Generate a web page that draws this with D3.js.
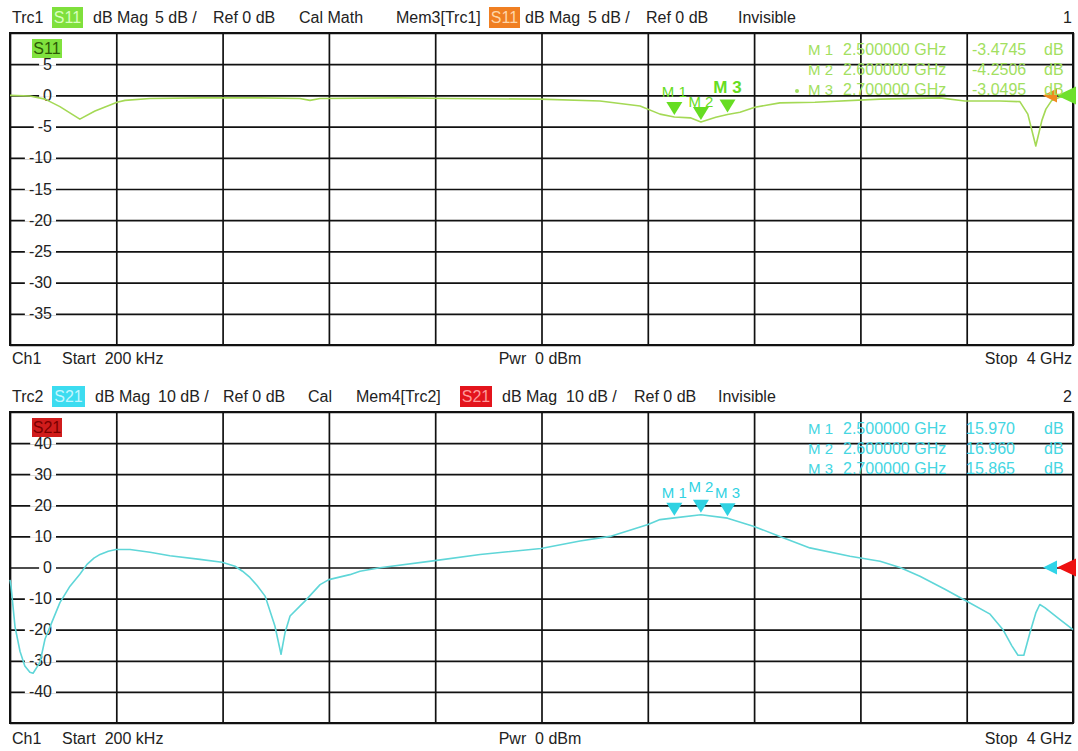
<!DOCTYPE html>
<html><head><meta charset="utf-8">
<script src="https://cdn.jsdelivr.net/npm/d3@7"></script>
<style>
body{margin:0;background:#fff}
svg{display:block}
text{font-family:"Liberation Sans",Arial,sans-serif;white-space:pre}
</style>
</head><body>
<svg id="c" width="1078" height="751"></svg>
<script>
// ---------- data ----------
const s11Freq = [0.0002,0.075,0.132,0.188,0.263,0.320,0.403,0.433,0.527,0.715,0.941,1.091,1.129,1.167,1.468,1.656,1.994,2.220,2.371,2.446,2.5,2.56,2.6,2.656,2.7,2.747,2.803,2.897,3.029,3.274,3.499,3.593,3.725,3.800,3.830,3.860,3.883,3.898,3.920,3.950,4.0];
const s11Db   = [0,-0.1,-0.6,-1.8,-3.8,-2.5,-1.1,-0.8,-0.5,-0.4,-0.4,-0.5,-0.8,-0.5,-0.4,-0.5,-0.6,-0.9,-1.7,-3.0,-3.47,-3.6,-4.25,-3.5,-3.05,-2.7,-1.9,-1.2,-1.1,-0.6,-0.4,-0.9,-0.9,-1.0,-3.0,-8.1,-4.0,-2.2,-0.8,-0.3,-0.2];
const s21Freq = [0.0002,0.004,0.019,0.038,0.056,0.075,0.087,0.113,0.132,0.151,0.188,0.226,0.263,0.290,0.316,0.339,0.370,0.399,0.452,0.527,0.602,0.715,0.798,0.847,0.875,0.903,0.930,0.960,0.997,1.020,1.035,1.054,1.091,1.110,1.167,1.200,1.279,1.317,1.392,1.599,1.769,1.998,2.145,2.258,2.401,2.446,2.5,2.6,2.7,2.8,2.897,3.010,3.161,3.274,3.349,3.424,3.518,3.597,3.688,3.736,3.770,3.793,3.815,3.838,3.860,3.875,3.894,3.950,4.0];
const s21Db   = [-4,-6,-19,-27,-31.7,-33.7,-34,-30.5,-23,-19,-11.3,-6,-2.2,1,3,4.2,5.2,5.8,5.8,4.9,3.8,2.6,1.7,0.4,-1.2,-3.2,-5.8,-9.2,-18.8,-27.9,-21,-15.6,-12.4,-10.8,-5.5,-3.9,-2.3,-1.2,-0.1,2.2,4.2,6.1,8.5,10,13.8,15.4,15.97,16.96,15.865,13.2,10,6.3,3.6,2,0,-2.8,-7,-10.7,-15,-19.9,-25.2,-28.2,-28.2,-21,-14.6,-11.9,-12.9,-16.7,-20];
const markerNames = ["M 1","M 2","M 3"];
const markerFreq = [2.5,2.6,2.7];
const markerFreqText = ["2.500000 GHz","2.600000 GHz","2.700000 GHz"];
const s11MarkerDb = [-3.4745,-4.2506,-3.0495];
const s21MarkerDb = [15.970,16.960,15.865];
const s11MarkerText = ["-3.4745","-4.2506","-3.0495"];
const s21MarkerText = ["15.970","16.960","15.865"];
const s11Ticks = [5,0,-5,-10,-15,-20,-25,-30,-35];
const s21Ticks = [40,30,20,10,0,-10,-20,-30,-40];
const fStart = 0.0002, fStop = 4;

// ---------- drawing ----------
const svg = d3.select("#c");
const X0 = 10, X1 = 1073;
const x = d3.scaleLinear().domain([fStart, fStop]).range([X0, X1]);
const vTicks = d3.range(0, 11).map(i => fStart + i * (fStop - fStart) / 10);

function header(y, items) {
  const g = svg.append("g");
  items.forEach(it => {
    if (it.badge) {
      g.append("rect").attr("x", it.x).attr("y", y - 16).attr("width", it.w).attr("height", 21).attr("fill", it.badge);
      g.append("text").attr("x", it.x + it.w / 2).attr("y", y).attr("text-anchor", "middle")
        .attr("font-size", 16).attr("fill", it.tc).text(it.t);
    } else {
      g.append("text").attr("x", it.x).attr("y", y).attr("text-anchor", it.a || "start")
        .attr("font-size", 16).attr("fill", "#222").text(it.t);
    }
  });
}

function panel(cfg) {
  const y = d3.scaleLinear().domain(cfg.domain).range([cfg.bottom, cfg.top]);
  const g = svg.append("g");
  const H = cfg.bottom - cfg.top;
  g.append("g").attr("transform", `translate(0,${cfg.bottom})`)
    .call(d3.axisBottom(x).tickValues(vTicks).tickSize(-H).tickFormat(""))
    .call(s => { s.select(".domain").remove(); s.selectAll("line").attr("stroke", "#111").attr("stroke-width", 1.7); });
  const hTicks = d3.range(cfg.domain[0], cfg.domain[1] + 0.001, cfg.step);
  g.append("g").attr("transform", `translate(${X0},0)`)
    .call(d3.axisRight(y).tickValues(hTicks).tickSize(X1 - X0).tickFormat(""))
    .call(s => { s.select(".domain").remove(); s.selectAll("line").attr("stroke", "#111").attr("stroke-width", 1.7); });
  g.append("rect").attr("x", X0).attr("y", cfg.top).attr("width", X1 - X0).attr("height", H)
    .attr("fill", "none").attr("stroke", "#111").attr("stroke-width", 2);
  cfg.ticks.forEach(v => {
    const t = g.append("text").attr("x", 52).attr("y", y(v) + 5.5).attr("text-anchor", "end")
      .attr("font-size", 16).attr("fill", "#222").text(String(v));
    const bb = t.node().getBBox();
    g.insert("rect", () => t.node()).attr("x", bb.x - 4).attr("y", y(v) - 1.5).attr("width", 56 - (bb.x - 4)).attr("height", 3).attr("fill", "#fff");
  });
  // in-plot badge
  g.append("rect").attr("x", 32).attr("y", cfg.top + 6).attr("width", 30).attr("height", 19).attr("fill", cfg.badgeBg);
  g.append("text").attr("x", 47).attr("y", cfg.top + 21).attr("text-anchor", "middle").attr("font-size", 16)
    .attr("fill", cfg.badgeFg).text(cfg.badge);
  // trace
  const line = d3.line().x(d => x(d[0])).y(d => y(d[1]));
  g.append("path").datum(d3.zip(cfg.freq, cfg.db)).attr("d", line)
    .attr("fill", "none").attr("stroke", cfg.color).attr("stroke-width", 1.6).attr("stroke-linejoin", "round");
  // reference level arrows (right)
  const ry = y(0);
  g.append("path").attr("d", `M${X1 - 16},${ry} L${X1 + 3},${ry - 9} L${X1 + 3},${ry + 9} Z`).attr("fill", cfg.refMain);
  g.append("path").attr("d", `M${X1 - 30},${ry} L${X1 - 16},${ry - 7} L${X1 - 16},${ry + 7} Z`).attr("fill", cfg.refSub);
  // markers
  markerFreq.forEach((f, i) => {
    const px = x(f), py = y(cfg.mdb[i]) - 2;
    g.append("path").attr("d", `M${px},${py} L${px - 8},${py - 13} L${px + 8},${py - 13} Z`).attr("fill", cfg.mcolor);
    const off = cfg.labelOff[i];
    g.append("text").attr("x", px).attr("y", py - 13 - off).attr("text-anchor", "middle")
      .attr("font-size", cfg.labelSize[i]).attr("font-weight", cfg.labelWeight[i]).attr("fill", cfg.mcolor).text(markerNames[i]);
  });
  // marker table
  markerNames.forEach((m, i) => {
    const ty = cfg.top + 22 + i * 20;
    g.append("text").attr("x", 808).attr("y", ty).attr("font-size", 15).attr("fill", cfg.tcolor).text(m);
    g.append("text").attr("x", 843).attr("y", ty).attr("font-size", 16).attr("fill", cfg.tcolor).text(markerFreqText[i]);
    g.append("text").attr("x", cfg.valX).attr("y", ty).attr("font-size", 16).attr("fill", cfg.tcolor).text(cfg.mtext[i]);
    g.append("text").attr("x", 1044).attr("y", ty).attr("font-size", 16).attr("fill", cfg.tcolor).text("dB");
  });
  if (cfg.dot) g.append("circle").attr("cx", 797).attr("cy", cfg.top + 58).attr("r", 2).attr("fill", cfg.tcolor);
}

header(23, [
  {t:"Trc1", x:12}, {t:"S11", x:52, w:31, badge:"#7fe03c", tc:"#d9ffbe"},
  {t:"dB Mag", x:93}, {t:"5 dB /", x:155}, {t:"Ref 0 dB", x:213}, {t:"Cal Math", x:299},
  {t:"Mem3[Trc1]", x:396}, {t:"S11", x:489, w:31, badge:"#f07f22", tc:"#ffd6a8"},
  {t:"dB Mag", x:525}, {t:"5 dB /", x:588}, {t:"Ref 0 dB", x:646}, {t:"Invisible", x:738},
  {t:"1", x:1072, a:"end"}
]);
panel({top:33, bottom:345, domain:[-40,10], step:5, ticks:s11Ticks, freq:s11Freq, db:s11Db,
  color:"#a4d955", badge:"S11", badgeBg:"#80e23e", badgeFg:"#2c5a06",
  refMain:"#6fe02c", refSub:"#f08a20", mdb:s11MarkerDb, mcolor:"#66dd22",
  labelOff:[5,0,6], labelSize:[15,15,17], labelWeight:["normal","normal","bold"],
  tcolor:"#a2e060", mtext:s11MarkerText, valX:972, dot:true});
header(364, [{t:"Ch1", x:12}, {t:"Start  200 kHz", x:62}, {t:"Pwr  0 dBm", x:540, a:"middle"}, {t:"Stop  4 GHz", x:1072, a:"end"}]);

header(402, [
  {t:"Trc2", x:12}, {t:"S21", x:52, w:33, badge:"#3cdcf0", tc:"#c4f6ff"},
  {t:"dB Mag", x:95}, {t:"10 dB /", x:158}, {t:"Ref 0 dB", x:223}, {t:"Cal", x:308},
  {t:"Mem4[Trc2]", x:356}, {t:"S21", x:460, w:32, badge:"#e3141c", tc:"#ff9a9a"},
  {t:"dB Mag", x:502}, {t:"10 dB /", x:566}, {t:"Ref 0 dB", x:634}, {t:"Invisible", x:718},
  {t:"2", x:1072, a:"end"}
]);
panel({top:412, bottom:723, domain:[-50,50], step:10, ticks:s21Ticks, freq:s21Freq, db:s21Db,
  color:"#5fd6d8", badge:"S21", badgeBg:"#d01c1c", badgeFg:"#7a0000",
  refMain:"#ee1010", refSub:"#30d4e8", mdb:s21MarkerDb, mcolor:"#30d2e2",
  labelOff:[5,8,5], labelSize:[15,15,15], labelWeight:["normal","normal","normal"],
  tcolor:"#45d6e2", mtext:s21MarkerText, valX:966, dot:false});
header(744, [{t:"Ch1", x:12}, {t:"Start  200 kHz", x:62}, {t:"Pwr  0 dBm", x:540, a:"middle"}, {t:"Stop  4 GHz", x:1072, a:"end"}]);
</script>
</body></html>
